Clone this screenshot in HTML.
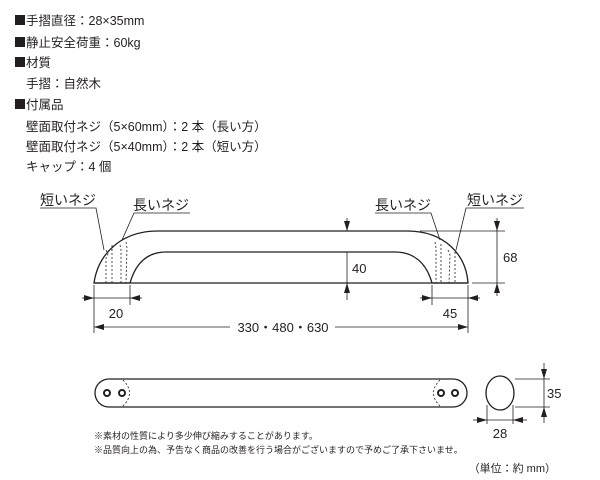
<!DOCTYPE html>
<html><head><meta charset="utf-8"><style>
html,body{margin:0;padding:0;background:#fff;}
svg{display:block;}
text{font-family:"Liberation Sans","Noto Sans CJK JP",sans-serif;fill:#231f20;}
</style></head><body>
<svg width="600" height="480" viewBox="0 0 600 480" xmlns="http://www.w3.org/2000/svg">
<defs>
<marker id="a" markerWidth="10" markerHeight="6" refX="10" refY="3" orient="auto" markerUnits="userSpaceOnUse"><path d="M0,0 L10,3 L0,6 Z" fill="#231f20"/></marker>
</defs>
<g fill="#231f20">
<rect x="15" y="15" width="10" height="10"/>
<rect x="15" y="37" width="10" height="10"/>
<rect x="15" y="57" width="10" height="10"/>
<rect x="15" y="99" width="10" height="10"/>
</g>
<g font-size="12.5">
<text x="26" y="25">手摺直径：28×35mm</text>
<text x="26" y="47">静止安全荷重：60kg</text>
<text x="26" y="67">材質</text>
<text x="26" y="88">手摺：自然木</text>
<text x="26" y="109">付属品</text>
<text x="26" y="131">壁面取付ネジ（5×60mm）：2 本（長い方）</text>
<text x="26" y="151">壁面取付ネジ（5×40mm）：2 本（短い方）</text>
<text x="26" y="171">キャップ：4 個</text>
</g>
<g fill="none" stroke="#231f20" stroke-width="1.3">
<path d="M94,283 C98,255 120,231 158,231 L407,231 C445,231 466,255 468,283 Z"/>
<path d="M130,283 C136,262 148,252 166,252 L395,252 C413,252 426,262 432,283"/>
<line x1="94" y1="283" x2="130" y2="283"/>
<line x1="432" y1="283" x2="468" y2="283"/>
</g>
<g stroke="#231f20" stroke-width="0.8" stroke-dasharray="2,2" fill="none">
<path d="M106,250 L108,254 L106,258 L106,283"/><path d="M112,245 L112,283"/>
<path d="M120,245 L121,250 L121,283"/><path d="M126,242 L127,248 L126,283"/>
<path d="M435,242 L436,248 L436,283"/><path d="M441,244 L441,283"/>
<path d="M448,250 L450,255 L449,283"/><path d="M455,252 L455,283"/>
</g>
<g stroke="#231f20" stroke-width="0.8" fill="none">
<line x1="94" y1="285" x2="94" y2="333"/><line x1="130" y1="285" x2="130" y2="305"/>
<line x1="432" y1="285" x2="432" y2="305"/><line x1="468" y1="285" x2="468" y2="333"/>
<line x1="82" y1="298" x2="94" y2="298" marker-end="url(#a)"/>
<line x1="142" y1="298" x2="130" y2="298" marker-end="url(#a)"/>
<line x1="94" y1="298" x2="130" y2="298"/>
<line x1="420" y1="298" x2="432" y2="298" marker-end="url(#a)"/>
<line x1="480" y1="298" x2="468" y2="298" marker-end="url(#a)"/>
<line x1="432" y1="298" x2="468" y2="298"/>
<line x1="230" y1="327" x2="94" y2="327" marker-end="url(#a)"/>
<line x1="335" y1="327" x2="468" y2="327" marker-end="url(#a)"/>
<line x1="347" y1="218" x2="347" y2="231" marker-end="url(#a)"/>
<line x1="347" y1="300" x2="347" y2="283" marker-end="url(#a)"/>
<line x1="347" y1="283" x2="347" y2="252"/>
<line x1="340" y1="283" x2="354" y2="283"/>
<line x1="420" y1="231" x2="505" y2="231"/>
<line x1="472" y1="283" x2="505" y2="283"/>
<line x1="497" y1="218" x2="497" y2="231" marker-end="url(#a)"/>
<line x1="497" y1="296" x2="497" y2="283" marker-end="url(#a)"/>
<line x1="497" y1="231" x2="497" y2="283"/>
<polyline points="40,208 96,208 104,250"/>
<polyline points="190,213 134,213 122,240"/>
<polyline points="375,213 431,213 440,240"/>
<polyline points="524,208 466,208 456,250"/>
</g>
<g font-size="13">
<text x="116" y="318" text-anchor="middle">20</text>
<text x="450" y="318" text-anchor="middle">45</text>
<text x="283" y="332" text-anchor="middle">330・480・630</text>
<text x="352" y="273">40</text>
<text x="503" y="262">68</text>
</g>
<g font-size="14">
<text x="40" y="205">短いネジ</text>
<text x="133" y="210">長いネジ</text>
<text x="375" y="210">長いネジ</text>
<text x="467" y="205">短いネジ</text>
</g>
<g fill="none" stroke="#231f20" stroke-width="1.3">
<rect x="95" y="379" width="372" height="28" rx="14"/>
<ellipse cx="500" cy="393" rx="14" ry="17"/>
</g>
<g fill="none" stroke="#231f20" stroke-width="2">
<circle cx="107" cy="393" r="3"/><circle cx="122" cy="393" r="3"/>
<circle cx="441" cy="393" r="3"/><circle cx="455" cy="393" r="3"/>
</g>
<g fill="none" stroke="#231f20" stroke-width="0.8" stroke-dasharray="2,2">
<path d="M123,380 Q136,393 123,406"/>
<path d="M440,380 Q427,393 440,406"/>
</g>
<g stroke="#231f20" stroke-width="0.8" fill="none">
<line x1="515" y1="379" x2="550" y2="379"/><line x1="515" y1="407" x2="550" y2="407"/>
<line x1="544" y1="363" x2="544" y2="379" marker-end="url(#a)"/>
<line x1="544" y1="423" x2="544" y2="407" marker-end="url(#a)"/>
<line x1="544" y1="379" x2="544" y2="407"/>
<line x1="487" y1="405" x2="487" y2="424"/><line x1="513" y1="405" x2="513" y2="424"/>
<line x1="473" y1="420" x2="487" y2="420" marker-end="url(#a)"/>
<line x1="527" y1="420" x2="513" y2="420" marker-end="url(#a)"/>
<line x1="487" y1="420" x2="513" y2="420"/>
</g>
<g font-size="13">
<text x="547" y="398">35</text>
<text x="500" y="438" text-anchor="middle">28</text>
</g>
<g font-size="9">
<text x="94" y="439">※素材の性質により多少伸び縮みすることがあります。</text>
<text x="94" y="453">※品質向上の為、予告なく商品の改善を行う場合がございますので予めご了承下さいませ。</text>
</g>
<text x="556" y="472" font-size="11" text-anchor="end">（単位：約 mm）</text>
</svg>
</body></html>
